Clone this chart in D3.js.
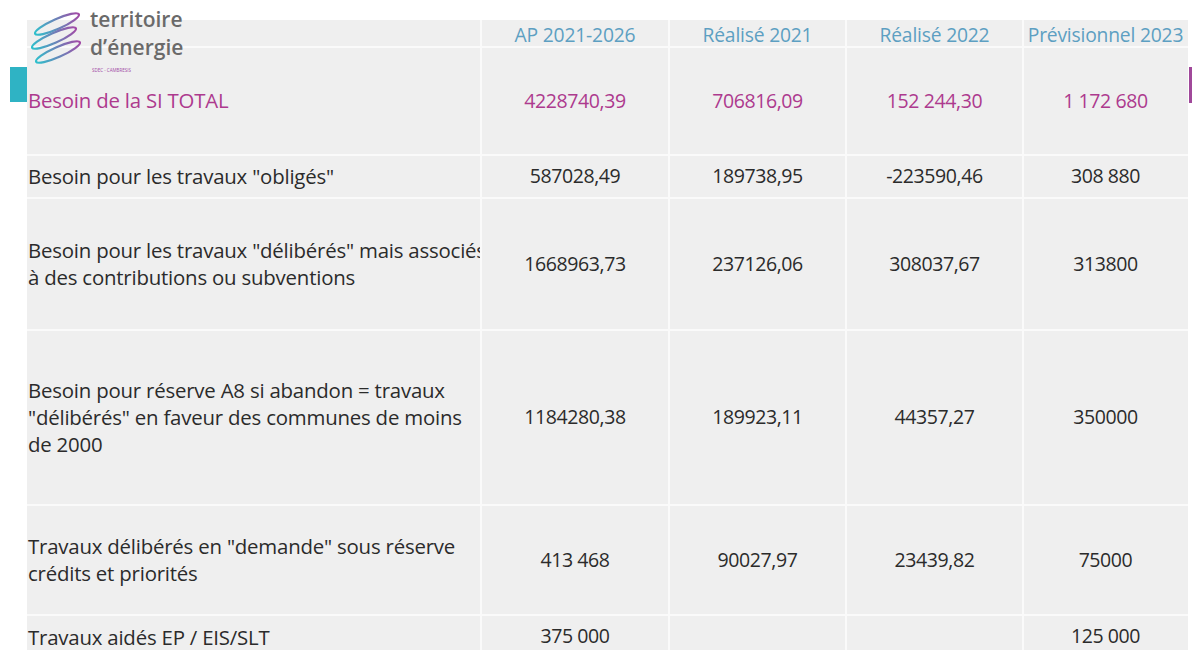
<!DOCTYPE html>
<html>
<head>
<meta charset="utf-8">
<script src="https://cdn.jsdelivr.net/npm/d3@7"></script>
<style>
  body { margin: 0; background: #fff; }
  svg { display: block; }
</style>
</head>
<body>
<div id="chart"></div>
<script>
// data
var columns = ['AP 2021-2026', 'Réalisé 2021', 'Réalisé 2022', 'Prévisionnel 2023'];
var rowLabels = [
  ['Besoin de la SI TOTAL'],
  ['Besoin pour les travaux "obligés"'],
  ['Besoin pour les travaux "délibérés" mais associés', 'à des contributions ou subventions'],
  ['Besoin pour réserve A8 si abandon = travaux', '"délibérés" en faveur des communes de moins', 'de 2000'],
  ['Travaux délibérés en "demande" sous réserve', 'crédits et priorités'],
  ['Travaux aidés EP / EIS/SLT']
];
var ap2021_2026 = ['4228740,39', '587028,49', '1668963,73', '1184280,38', '413 468', '375 000'];
var realise2021 = ['706816,09', '189738,95', '237126,06', '189923,11', '90027,97', ''];
var realise2022 = ['152 244,30', '-223590,46', '308037,67', '44357,27', '23439,82', ''];
var previsionnel2023 = ['1 172 680', '308 880', '313800', '350000', '75000', '125 000'];
var series = [ap2021_2026, realise2021, realise2022, previsionnel2023];

// layout
var w = 1192, h = 650;
var colEdges = [27, 481, 669, 846, 1023, 1188];
var rowEdges = [20, 47, 155, 198, 330, 505, 615, 660];
var font = '"Open Sans", Lato, sans-serif';
var purple = '#ad3a8e', dark = '#2b2b2b', blue = '#5d9fc2';

var svg = d3.select('div#chart').append('svg')
  .attr('width', w).attr('height', h);

var x = d3.scaleOrdinal().domain(['label'].concat(columns)).range(colEdges.slice(0, 5));
var colW = function(i) { return colEdges[i + 1] - colEdges[i]; };
var y = d3.scaleOrdinal().domain(d3.range(rowLabels.length + 1)).range(rowEdges);

//background + grid
svg.append('rect')
  .attr('x', colEdges[0]).attr('y', rowEdges[0])
  .attr('width', colEdges[5] - colEdges[0]).attr('height', h - rowEdges[0])
  .attr('fill', '#efefef');

var grid = svg.append('g').attr('stroke', '#fafafa').attr('stroke-width', 2);
grid.selectAll('line.h').data(rowEdges.slice(1, rowEdges.length - 1))
  .enter().append('line')
  .attr('x1', colEdges[0]).attr('x2', colEdges[5])
  .attr('y1', function(d) { return d; }).attr('y2', function(d) { return d; });
grid.selectAll('line.v').data(colEdges.slice(1, 5))
  .enter().append('line')
  .attr('x1', function(d) { return d; }).attr('x2', function(d) { return d; })
  .attr('y1', rowEdges[0]).attr('y2', h);

//clip paths per column
var defs = svg.append('defs');
colEdges.slice(0, 5).forEach(function(e, i) {
  defs.append('clipPath').attr('id', 'clip' + i)
    .append('rect').attr('x', e).attr('y', 0).attr('width', colW(i) - 1).attr('height', h);
});

//header
svg.append('g').selectAll('text').data(columns)
  .enter().append('text')
  .attr('clip-path', function(d, i) { return 'url(#clip' + (i + 1) + ')'; })
  .attr('x', function(d, i) { return x(d) + colW(i + 1) / 2; })
  .attr('y', 35)
  .attr('dy', '0.35em')
  .attr('text-anchor', 'middle')
  .attr('font-family', font).attr('font-size', 19.3)
  .attr('letter-spacing', -0.2)
  .attr('fill', blue)
  .text(function(d) { return d; });

//row labels
var lineH = 27;
var labels = svg.append('g').attr('clip-path', 'url(#clip0)');
rowLabels.forEach(function(lines, r) {
  var cy = (y(r + 1) + y(r + 2)) / 2;
  var top = cy - (lines.length - 1) * lineH / 2;
  labels.append('text')
    .attr('font-family', font).attr('font-size', 20.4)
    .attr('letter-spacing', -0.2)
    .attr('fill', r === 0 ? purple : dark)
    .selectAll('tspan').data(lines).enter().append('tspan')
    .attr('x', colEdges[0] + 1)
    .attr('y', function(d, i) { return top + i * lineH; })
    .attr('dy', '0.35em')
    .text(function(d) { return d; });
});

//values
series.forEach(function(vals, c) {
  svg.append('g').attr('clip-path', 'url(#clip' + (c + 1) + ')')
    .selectAll('text').data(vals).enter().append('text')
    .attr('x', x(columns[c]) + colW(c + 1) / 2)
    .attr('y', function(d, r) { return (y(r + 1) + y(r + 2)) / 2 + (r === 5 ? -1 : 0); })
    .attr('dy', '0.35em')
    .attr('text-anchor', 'middle')
    .attr('font-family', font).attr('font-size', 19.5)
    .attr('letter-spacing', -0.4)
    .attr('fill', function(d, r) { return r === 0 ? purple : dark; })
    .text(function(d) { return d; });
});

//side marks
svg.append('rect').attr('x', 10).attr('y', 67).attr('width', 17).attr('height', 35).attr('fill', '#2fb3c4');
svg.append('rect').attr('x', 1189).attr('y', 67).attr('width', 3).attr('height', 36).attr('fill', '#a0489a');

//logo
var grad = defs.append('linearGradient').attr('id', 'logoGrad')
  .attr('x1', '0%').attr('x2', '100%').attr('y1', '0%').attr('y2', '0%');
grad.append('stop').attr('offset', '0%').attr('stop-color', '#2fc0cc');
grad.append('stop').attr('offset', '100%').attr('stop-color', '#a24aa6');

var logo = svg.append('g');
[[57, 24], [54, 38], [58, 52]].forEach(function(p) {
  logo.append('ellipse')
    .attr('cx', p[0]).attr('cy', p[1]).attr('rx', 24).attr('ry', 5)
    .attr('transform', 'rotate(-24,' + p[0] + ',' + p[1] + ')')
    .attr('fill', 'none').attr('stroke', 'url(#logoGrad)').attr('stroke-width', 2.2);
});
logo.append('text').attr('x', 90).attr('y', 27)
  .attr('font-family', font).attr('font-size', 21).attr('font-weight', 600)
  .attr('fill', '#6a6a6a').text('territoire');
logo.append('text').attr('x', 90).attr('y', 55)
  .attr('font-family', font).attr('font-size', 21).attr('font-weight', 600)
  .attr('fill', '#6a6a6a').text('d\u2019énergie');
logo.append('text').attr('x', 92).attr('y', 72)
  .attr('font-family', font).attr('font-size', 4.5).attr('fill', '#a24aa6').text('SDEC - CAMBRESIS');
</script>
</body>
</html>
